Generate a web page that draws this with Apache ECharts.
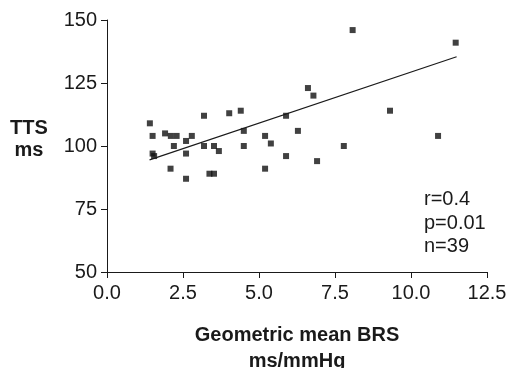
<!DOCTYPE html>
<html>
<head>
<meta charset="utf-8">
<script src="https://cdn.jsdelivr.net/npm/echarts@6/dist/echarts.min.js"></script>
<style>
  html, body { margin: 0; padding: 0; background: #fff; }
  #chart { width: 507px; height: 368px; }
</style>
</head>
<body>
<div id="chart"></div>
<script>
// BRS (ms/mmHg) vs TTS (ms)
const brs = [1.41, 1.50, 1.50, 1.55, 1.91, 2.10, 2.29, 2.20, 2.09, 2.60, 2.60, 2.60, 2.79,
  3.19, 3.19, 3.37, 3.52, 3.52, 3.68, 4.02, 4.40, 4.50, 4.50, 5.20, 5.20, 5.39, 5.89, 5.89,
  6.28, 6.61, 6.79, 6.91, 7.79, 8.08, 9.31, 10.89, 11.47];
const tts = [109, 104, 97, 96, 105, 104, 104, 100, 91, 102, 97, 87, 104,
  112, 100, 89, 89, 100, 98, 113, 114, 106, 100, 104, 91, 101, 112, 96,
  106, 123, 120, 94, 100, 146, 114, 104, 141];

// regression line end points
const fitX = [1.4, 11.5];
const fitY = [94.5, 135.4];

const statsText = ['r=0.4', 'p=0.01', 'n=39'];

const FONT = 'Liberation Sans, Arial, Helvetica, sans-serif';
const INK = '#1a1a1a';
const chart = echarts.init(document.getElementById('chart'), null, { renderer: 'canvas' });

chart.setOption({
  backgroundColor: '#fff',
  animation: false,
  grid: { left: 107, right: 20, top: 20, bottom: 96, containLabel: false, outerBoundsMode: 'none' },
  xAxis: {
    type: 'value',
    min: 0, max: 12.5, interval: 2.5,
    name: 'Geometric mean BRS\nms/mmHg',
    nameLocation: 'middle',
    nameGap: 50,
    nameTextStyle: { color: INK, fontSize: 20, fontWeight: 'bold', fontFamily: FONT, lineHeight: 26 },
    axisLine: { lineStyle: { color: INK, width: 1 } },
    axisTick: { show: true, length: 6, lineStyle: { color: INK } },
    axisLabel: {
      color: INK, fontSize: 20, fontFamily: FONT, margin: 11,
      formatter: v => v.toFixed(1)
    },
    splitLine: { show: false }
  },
  yAxis: {
    type: 'value',
    min: 50, max: 150, interval: 25,
    axisLine: { show: true, lineStyle: { color: INK, width: 1 } },
    axisTick: { show: true, length: 6, lineStyle: { color: INK } },
    axisLabel: { color: INK, fontSize: 20, fontFamily: FONT, margin: 10 },
    splitLine: { show: false }
  },
  graphic: [
    {
      type: 'text', left: 10, top: 117,
      style: { text: 'TTS\nms', fill: INK, font: 'bold 20px ' + FONT, textAlign: 'center', lineHeight: 22, x: 20 }
    },
    {
      type: 'text', left: 424, top: 188,
      style: { text: statsText.join('\n'), fill: INK, font: '20px ' + FONT, lineHeight: 23.5 }
    }
  ],
  series: [
    {
      type: 'scatter',
      symbol: 'rect',
      symbolSize: 6,
      itemStyle: { color: '#111' },
      data: brs.map((x, i) => [x, tts[i]])
    },
    {
      type: 'line',
      symbol: 'none',
      lineStyle: { color: INK, width: 1.2 },
      data: fitX.map((x, i) => [x, fitY[i]])
    }
  ]
});
</script>
</body>
</html>
